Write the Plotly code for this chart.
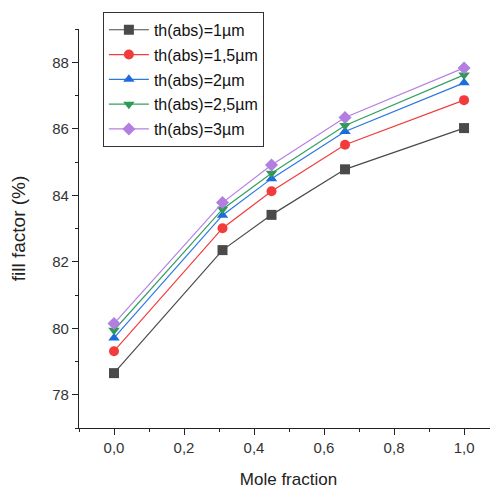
import plotly.graph_objects as go

mole_fraction = [0.0, 0.31, 0.45, 0.66, 1.0]
ff_1um = [78.65, 82.35, 83.41, 84.78, 86.02]
ff_1_5um = [79.31, 83.01, 84.12, 85.52, 86.86]
ff_2um = [79.71, 83.40, 84.50, 85.92, 87.38]
ff_2_5um = [79.94, 83.58, 84.66, 86.10, 87.62]
ff_3um = [80.14, 83.78, 84.91, 86.34, 87.83]

series = [
    ("th(abs)=1µm", ff_1um, "#4a4a4a", "#4a4a4a", "square"),
    ("th(abs)=1,5µm", ff_1_5um, "#f23c3c", "#f23c3c", "circle"),
    ("th(abs)=2µm", ff_2um, "#2a78e0", "#1e6be0", "triangle-up"),
    ("th(abs)=2,5µm", ff_2_5um, "#33a062", "#2e9a55", "triangle-down"),
    ("th(abs)=3µm", ff_3um, "#b581e6", "#b27ee0", "diamond"),
]

fig = go.Figure()
for i, (name, ys, lc, mc, sym) in enumerate(series):
    fig.add_trace(go.Scatter(
        x=mole_fraction, y=ys, name=name, mode="lines+markers",
        legendgroup=f"g{i}",
        line=dict(color=lc, width=1.2),
        marker=dict(symbol=sym, color=mc, size=10),
    ))

fig.update_layout(
    width=490, height=481,
    margin=dict(l=71, r=0, t=21, b=61),
    paper_bgcolor="white", plot_bgcolor="white",
    separators=", ",
    font=dict(family="Liberation Sans, Arial, sans-serif", color="#222", size=14),
    showlegend=True,
    legend=dict(
        x=0.057, y=1.043, xanchor="left", yanchor="top",
        bordercolor="#333", borderwidth=1, bgcolor="white",
        font=dict(size=16, color="#111"),
        tracegroupgap=1,
        itemwidth=40,
    ),
    xaxis=dict(
        range=[-0.1, 1.097], tickmode="array",
        tickvals=[0, 0.2, 0.4, 0.6, 0.8, 1.0],
        ticktext=["0,0", "0,2", "0,4", "0,6", "0,8", "1,0"],
        ticks="outside", ticklen=6, tickwidth=1, tickcolor="#222",
        showline=True, linecolor="#222", linewidth=1.3,
        showgrid=False, zeroline=False,
        minor=dict(tickvals=[-0.1, 0.1, 0.3, 0.5, 0.7, 0.9], ticks="outside", ticklen=3, tickcolor="#222"),
        title=dict(text="Mole fraction", font=dict(size=17), standoff=17),
        tickfont=dict(size=15, color="#333"),
    ),
    yaxis=dict(
        range=[77, 89], tickmode="array",
        tickvals=[78, 80, 82, 84, 86, 88],
        ticks="outside", ticklen=6, tickwidth=1, tickcolor="#222",
        showline=True, linecolor="#222", linewidth=1.3,
        showgrid=False, zeroline=False,
        minor=dict(tickvals=[77, 79, 81, 83, 85, 87, 89], ticks="outside", ticklen=3, tickcolor="#222"),
        title=dict(text="fill factor (%)", font=dict(size=19), standoff=25),
        tickfont=dict(size=15, color="#333"),
    ),
)

fig.write_html("out.html")
